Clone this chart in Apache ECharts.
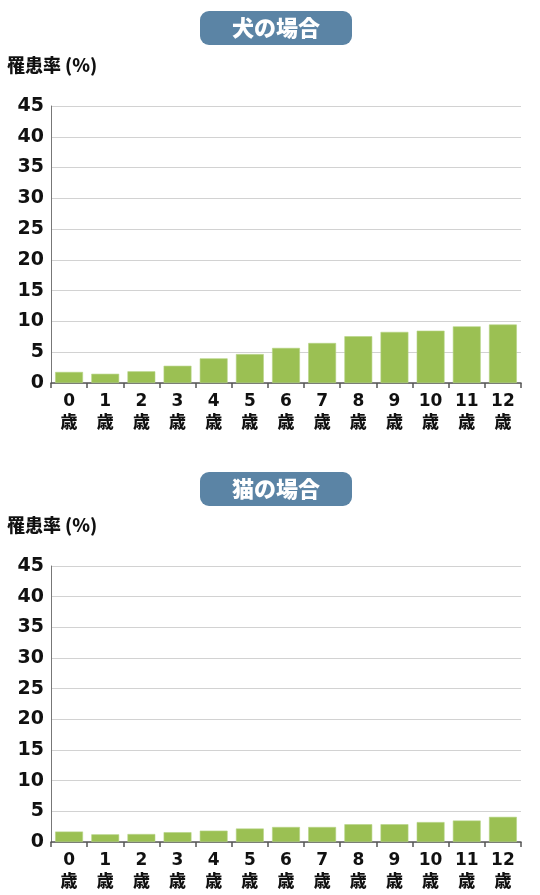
<!DOCTYPE html>
<html><head><meta charset="utf-8">
<script src="https://cdn.jsdelivr.net/npm/echarts@6/dist/echarts.min.js"></script>
<style>html,body{margin:0;padding:0;background:#fff}#c{width:540px;height:895px}</style>
</head><body><div id="c"></div>
<script>
const categories = ['0','1','2','3','4','5','6','7','8','9','10','11','12'];
const ageSuffix = '歳';
const dogValues = [1.8, 1.5, 1.9, 2.8, 4.0, 4.7, 5.7, 6.5, 7.6, 8.3, 8.5, 9.2, 9.5];
const catValues = [1.7, 1.25, 1.3, 1.6, 1.85, 2.2, 2.45, 2.45, 2.9, 2.9, 3.25, 3.5, 4.1];
const yTicks = [0, 5, 10, 15, 20, 25, 30, 35, 40, 45];
const dogTitle = '犬の場合';
const catTitle = '猫の場合';
const yName = '罹患率 (%)';

const numFont = '"DejaVu Sans", "Noto Sans CJK JP", sans-serif';
const cjkFont = '"Noto Sans CJK JP", sans-serif';
const barColor = '#9bc053';

function badge(text, top) {
  return {
    text: text, left: 200, top: top,
    backgroundColor: '#5b84a5', borderRadius: 9,
    padding: [3, 32, 3, 32],
    textStyle: { color: '#fff', fontSize: 22, fontWeight: 900, fontFamily: cjkFont, lineHeight: 28 }
  };
}
function yLabel(top) {
  return {
    text: yName, left: 7, top: top, padding: 0,
    textStyle: { color: '#111', fontSize: 18, fontWeight: 900, fontFamily: cjkFont }
  };
}
function xAxis(gi) {
  return {
    type: 'category', gridIndex: gi, data: categories,
    axisLine: { lineStyle: { color: '#555', width: 1.5 } },
    axisTick: { show: true, length: 5, interval: 0, lineStyle: { color: '#555', width: 1.5 } },
    axisLabel: {
      interval: 0, margin: 9, color: '#111', fontWeight: 'bold', fontSize: 17, lineHeight: 20,
      fontFamily: numFont,
      rich: { s: { fontFamily: cjkFont, fontWeight: 900, fontSize: 17, color: '#111', lineHeight: 20 } },
      formatter: v => v + '\n{s|' + ageSuffix + '}'
    }
  };
}
function yAxis(gi) {
  return {
    type: 'value', gridIndex: gi, min: yTicks[0], max: yTicks[yTicks.length - 1], interval: yTicks[1] - yTicks[0],
    axisLine: { show: true, lineStyle: { color: '#777', width: 1 } },
    axisTick: { show: false },
    splitLine: { lineStyle: { color: '#d2d2d2', width: 1.2 } },
    axisLabel: { color: '#111', fontWeight: 'bold', fontSize: 19, fontFamily: numFont, margin: 7 }
  };
}
function series(gi, data) {
  return {
    type: 'bar', xAxisIndex: gi, yAxisIndex: gi, data: data,
    barCategoryGap: '23%',
    itemStyle: { color: barColor, borderColor: '#b5d385', borderWidth: 0.6 },
    animation: false
  };
}

const chart = echarts.init(document.getElementById('c'));
chart.setOption({
  animation: false,
  title: [badge(dogTitle, 11), yLabel(56), badge(catTitle, 472), yLabel(516)],
  grid: [
    { left: 51, right: 19, top: 106, height: 277 },
    { left: 51, right: 19, top: 566, height: 276 }
  ],
  xAxis: [xAxis(0), xAxis(1)],
  yAxis: [yAxis(0), yAxis(1)],
  series: [series(0, dogValues), series(1, catValues)]
});
</script>
</body></html>
